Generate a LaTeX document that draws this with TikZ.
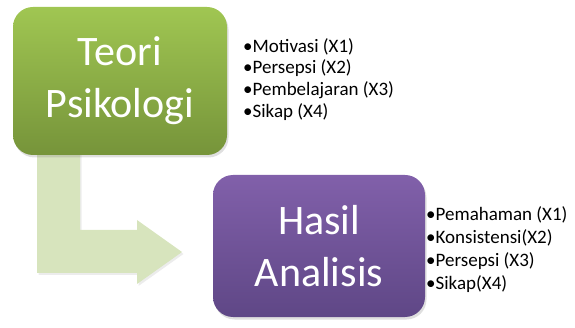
\documentclass[tikz,border=0pt]{standalone}
\usepackage{fontspec}
\setmainfont{Carlito}
\usetikzlibrary{shadows}
\definecolor{gtop}{RGB}{160,198,82}
\definecolor{gbot}{RGB}{118,148,58}
\definecolor{ptop}{RGB}{129,96,170}
\definecolor{pbot}{RGB}{95,71,134}
\definecolor{arrowfill}{RGB}{215,228,189}
\tikzset{
  bigbox/.style={rounded corners=20pt, inner sep=0pt, text=white, align=center,
    font=\fontsize{42}{52}\selectfont,
    drop shadow={shadow xshift=1.5pt, shadow yshift=-2.5pt, opacity=0.25}},
  listtext/.style={anchor=north west, align=left, inner sep=0pt, text=black},
}
\begin{document}
\begin{tikzpicture}[x=1pt,y=-1pt]
\useasboundingbox (0,0) rectangle (575,328);
% bent arrow
\fill[arrowfill, drop shadow={shadow xshift=1.5pt, shadow yshift=-2pt, opacity=0.15}]
  (37,150) -- (80,150) -- (80,230) -- (137,230) -- (137,220) -- (182,252)
  -- (137,284) -- (137,273) -- (37,273) -- cycle;
% boxes
\node[bigbox, top color=gtop, bottom color=gbot, minimum width=214pt, minimum height=148pt]
  (teori) at (120,81) {Teori\\Psikologi};
\node[bigbox, top color=ptop, bottom color=pbot, minimum width=212pt, minimum height=142pt]
  (hasil) at (319,246) {Hasil\\Analisis};
% lists
\node[listtext, font=\fontsize{19}{21.7}\selectfont] (list1) at (243,38)
  {•Motivasi (X1)\\•Persepsi (X2)\\•Pembelajaran (X3)\\•Sikap (X4)};
\node[listtext, font=\fontsize{19}{23.3}\selectfont] (list2) at (426,206)
  {•Pemahaman (X1)\\•Konsistensi(X2)\\•Persepsi (X3)\\•Sikap(X4)};
\end{tikzpicture}
\end{document}
